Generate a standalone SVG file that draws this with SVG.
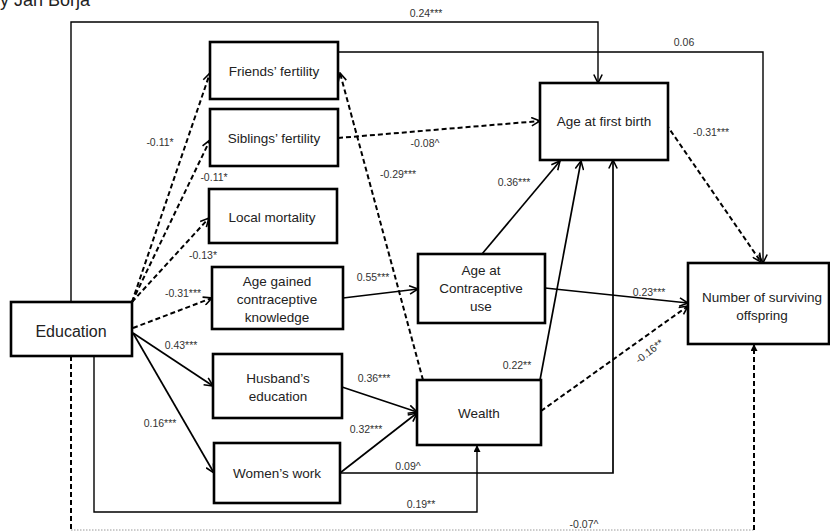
<svg xmlns="http://www.w3.org/2000/svg" width="830" height="532" viewBox="0 0 830 532">
<style>
.box{fill:#fff;stroke:#000;stroke-width:2.6}
.nt{font-family:"Liberation Sans",Arial,sans-serif;font-size:13.5px;fill:#222;text-anchor:middle;dominant-baseline:central}
.lb{font-family:"Liberation Sans",Arial,sans-serif;font-size:10.5px;fill:#333;text-anchor:middle;dominant-baseline:central}
.s{fill:none;stroke:#000;stroke-width:1.7}
.d{fill:none;stroke:#000;stroke-width:2;stroke-dasharray:5 3}
.e{fill:none;stroke:#000;stroke-width:1.4}
</style>
<defs>
<marker id="a" viewBox="0 0 10 10" refX="9.3" refY="5" markerWidth="10" markerHeight="10" markerUnits="userSpaceOnUse" orient="auto"><path d="M0.8,0.8 L9.3,5 L0.8,9.2" fill="none" stroke="#000" stroke-width="1.6"/></marker>
<marker id="f" viewBox="0 0 10 10" refX="10" refY="5" markerWidth="7" markerHeight="7" markerUnits="userSpaceOnUse" orient="auto"><path d="M0,0 L10,5 L0,10 z" fill="#000"/></marker>
</defs>
<rect width="830" height="532" fill="#fff"/>
<text x="0" y="6" style="font-family:'Liberation Sans',Arial,sans-serif;font-size:18px;fill:#222">y Jan Borja</text>
<g id="connectors">
<polyline class="e" points="71,302 71,22 598,22 598,83" marker-end="url(#a)"/>
<text class="lb" x="426" y="13">0.24***</text>
<polyline class="e" points="338,52 763,52 763,263" marker-end="url(#a)"/>
<text class="lb" x="684" y="42">0.06</text>
<line class="d" x1="338" y1="138" x2="540" y2="121" marker-end="url(#a)"/>
<text class="lb" x="425" y="143">-0.08^</text>
<line class="d" x1="423" y1="380" x2="340" y2="73" marker-end="url(#a)"/>
<text class="lb" x="398" y="174">-0.29***</text>
<line class="d" x1="132" y1="302" x2="210" y2="73" marker-end="url(#a)"/>
<text class="lb" x="160" y="142">-0.11*</text>
<line class="d" x1="132" y1="302" x2="210" y2="140" marker-end="url(#a)"/>
<text class="lb" x="214" y="177">-0.11*</text>
<line class="d" x1="132" y1="302" x2="209" y2="218" marker-end="url(#a)"/>
<text class="lb" x="203" y="255">-0.13*</text>
<line class="d" x1="133" y1="328" x2="212" y2="298" marker-end="url(#a)"/>
<text class="lb" x="183" y="293">-0.31***</text>
<line class="s" x1="133" y1="333" x2="213" y2="386" marker-end="url(#a)"/>
<text class="lb" x="181" y="345">0.43***</text>
<line class="s" x1="133" y1="333" x2="214" y2="473" marker-end="url(#a)"/>
<text class="lb" x="160" y="423">0.16***</text>
<line class="s" x1="343" y1="298" x2="418" y2="289" marker-end="url(#a)"/>
<text class="lb" x="373" y="277">0.55***</text>
<line class="s" x1="342" y1="387" x2="417" y2="412" marker-end="url(#a)"/>
<text class="lb" x="374" y="378">0.36***</text>
<line class="s" x1="340" y1="473" x2="417" y2="413" marker-end="url(#a)"/>
<text class="lb" x="366" y="429">0.32***</text>
<polyline class="s" points="340,473 613,473 613,160" marker-end="url(#a)"/>
<text class="lb" x="408" y="466">0.09^</text>
<polyline class="e" points="94,356 94,512 477,512 477,445" marker-end="url(#f)"/>
<text class="lb" x="421" y="504">0.19**</text>
<polyline class="d" points="71,356 71,531" />
<line x1="71" y1="530" x2="754" y2="530" stroke="#999" stroke-width="1" stroke-dasharray="1.5 1.5"/>
<line class="d" x1="754" y1="530" x2="754" y2="344" stroke-width="1.6" marker-end="url(#f)"/>
<text class="lb" x="584" y="524">-0.07^</text>
<line class="s" x1="482" y1="254" x2="560" y2="161" marker-end="url(#a)"/>
<text class="lb" x="514" y="182">0.36***</text>
<line class="s" x1="540" y1="380" x2="581" y2="161" marker-end="url(#a)"/>
<text class="lb" x="517" y="365">0.22**</text>
<line class="s" x1="545" y1="288" x2="688" y2="303" marker-end="url(#a)"/>
<text class="lb" x="649" y="292">0.23***</text>
<line class="d" x1="541" y1="411" x2="688" y2="306" marker-end="url(#a)"/>
<text class="lb" x="649" y="351" transform="rotate(-38 649 351)">-0.16**</text>
<line class="d" x1="666" y1="124" x2="761" y2="262" marker-end="url(#a)"/>
<text class="lb" x="711" y="132">-0.31***</text>
</g>
<g id="education"><rect class="box" x="11" y="302" width="121" height="54"/><text class="nt" x="71" y="331" style="font-size:16px">Education</text></g>
<g id="friends"><rect class="box" x="210" y="42" width="128" height="57"/><text class="nt" x="274" y="71">Friends’ fertility</text></g>
<g id="siblings"><rect class="box" x="210" y="109" width="128" height="57"/><text class="nt" x="274" y="138">Siblings’ fertility</text></g>
<g id="mortality"><rect class="box" x="209" y="189" width="128" height="54"/><text class="nt" x="272" y="217">Local mortality</text></g>
<g id="knowledge"><rect class="box" x="212" y="267" width="131" height="62"/><text class="nt" x="277" y="281">Age gained</text><text class="nt" x="277" y="299">contraceptive</text><text class="nt" x="277" y="317">knowledge</text></g>
<g id="husband"><rect class="box" x="213" y="354" width="129" height="64"/><text class="nt" x="278" y="378">Husband’s</text><text class="nt" x="278" y="396">education</text></g>
<g id="work"><rect class="box" x="214" y="443" width="126" height="60"/><text class="nt" x="277" y="473">Women’s work</text></g>
<g id="wealth"><rect class="box" x="417" y="380" width="124" height="65"/><text class="nt" x="479" y="413">Wealth</text></g>
<g id="contraceptive"><rect class="box" x="418" y="254" width="127" height="69"/><text class="nt" x="481" y="270">Age at</text><text class="nt" x="481" y="288">Contraceptive</text><text class="nt" x="481" y="306">use</text></g>
<g id="firstbirth"><rect class="box" x="540" y="83" width="128" height="77"/><text class="nt" x="604" y="121">Age at first birth</text></g>
<g id="offspring"><rect class="box" x="688" y="263" width="141" height="81"/><text class="nt" x="762" y="297">Number  of surviving</text><text class="nt" x="762" y="315">offspring</text></g>
</svg>
